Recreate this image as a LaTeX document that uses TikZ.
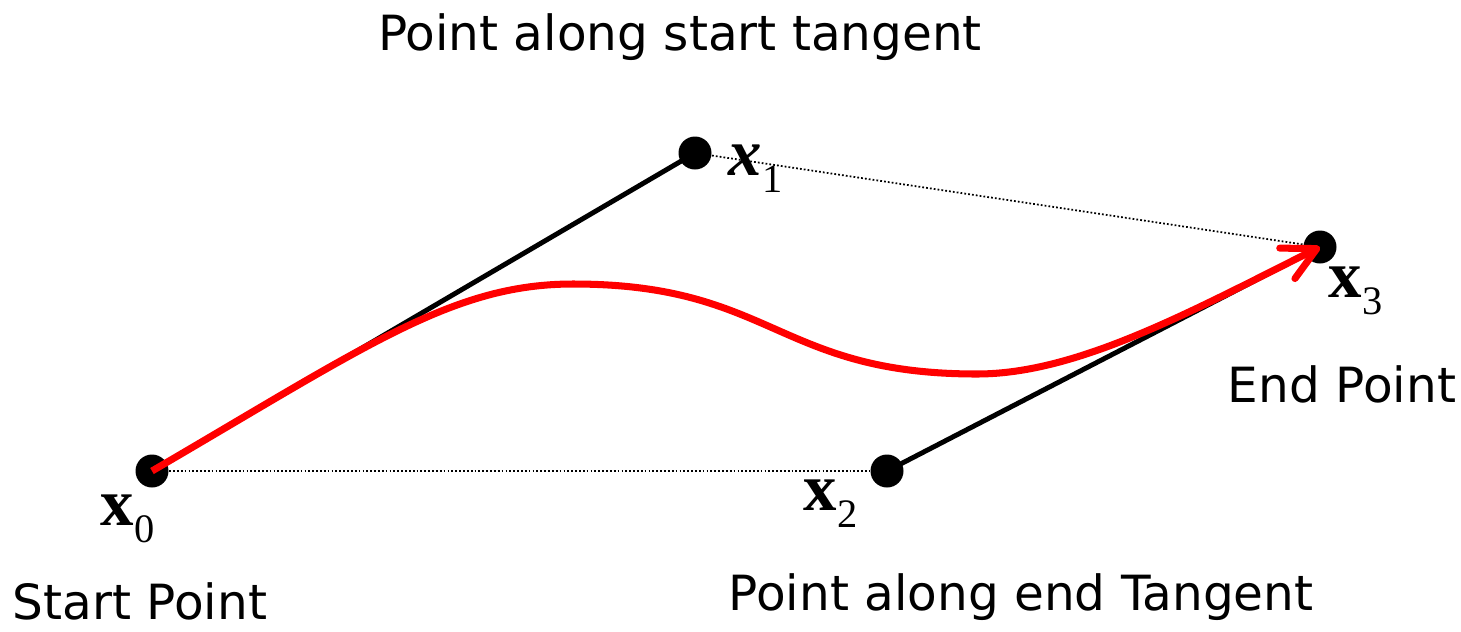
\documentclass[tikz,border=0pt]{standalone}
\usepackage{fontspec}
\setmainfont{Liberation Serif}
\newfontfamily\capfont{DejaVu Sans}
\usetikzlibrary{arrows.meta}
\definecolor{CR}{RGB}{255, 0, 0}
\newcommand{\ptlab}[2]{{\fontsize{19}{19}\selectfont\bfseries #1}\raisebox{-0.17cm}{\fontsize{11.5}{11.5}\selectfont #2}}

\begin{document}
\begin{tikzpicture}[x=0.1mm, y=-0.1mm,
        dot/.style={circle, fill=black, inner sep=0pt, minimum size=3.3mm},
        tang/.style={line width=1.4pt},
        hull/.style={line width=0.5pt, dash pattern=on 0.5pt off 0.6pt},
        caption/.style={font=\capfont\fontsize{13.8}{16}\selectfont, anchor=base, inner sep=0pt},
        ptname/.style={anchor=base west, inner sep=0pt}]
        \useasboundingbox (0,0) rectangle (1461,631);
        % control points
        \node[dot] (x0) at (152,471) {};
        \node[dot] (x1) at (695,153) {};
        \node[dot] (x2) at (887,471) {};
        \node[dot] (x3) at (1320,247) {};
        \node[ptname] (l0) at (100,525) {\ptlab{x}{0}};
        \node[ptname] (l1) at (728,175) {\ptlab{\itshape x}{1}};
        \node[ptname] (l2) at (803,510) {\ptlab{x}{2}};
        \node[ptname] (l3) at (1328,297) {\ptlab{x}{3}};
        % captions
        \node[caption] (c1) at (680,50)    {Point along start tangent};
        \node[caption] (c0) at (140,619)   {Start Point};
        \node[caption] (c2) at (1021,610)  {Point along end Tangent};
        \node[caption] (c3) at (1342,402)  {End Point};
        % hull and tangents
        \draw[hull] (x0) -- (x2);
        \draw[hull] (x1) -- (x3);
        \draw[tang] (x0.center) -- (x1.center);
        \draw[tang] (x2.center) -- (x3.center);
        % the curve
        \draw[CR, line width=2pt, -{Straight Barb[length=3.3mm, width=3.4mm, round]}]
            (x0.center) .. controls (368,345) and (453,284) .. (573,284)
            .. controls (773,284) and (777,374) .. (977,374)
            .. controls (1077,374) and (1190,312) .. (x3.center);
    \end{tikzpicture}
\end{document}
